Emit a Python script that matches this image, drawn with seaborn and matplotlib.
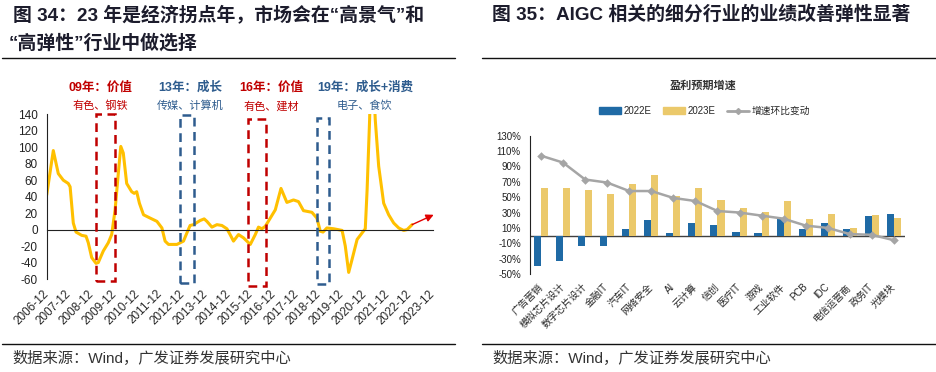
import matplotlib
matplotlib.use('Agg')
import matplotlib.pyplot as plt
from matplotlib.patches import Rectangle, Patch
from matplotlib.lines import Line2D
import seaborn as sns
import pandas as pd

# ---- left panel data: years since 2006-12 and value
left_t = [0.00, 0.29, 0.51, 0.73, 0.95, 1.03, 1.17, 1.29, 1.54, 1.73, 1.83, 1.98,
          2.17, 2.27, 2.49, 2.71, 2.86, 3.01, 3.15, 3.26, 3.37, 3.52, 3.74, 3.85,
          3.96, 4.08, 4.26, 4.55, 4.85, 5.07, 5.21, 5.36, 5.73, 6.02, 6.17, 6.31,
          6.46, 6.75, 6.93, 7.05, 7.27, 7.49, 7.71, 7.93, 8.07, 8.22, 8.44, 8.66,
          8.96, 9.18, 9.32, 9.47, 9.62, 9.84, 10.06, 10.31, 10.57, 10.86, 11.08,
          11.30, 11.67, 11.89, 12.04, 12.16, 12.33, 12.63, 13.00, 13.14, 13.29,
          13.44, 13.66, 13.88, 14.02, 14.10, 14.21, 14.30, 14.46, 14.61, 14.83,
          15.05, 15.27, 15.49, 15.71, 15.86, 16.08]
left_v = [42, 96, 68, 60, 56, 52, 8, -3, -7, -8, -16, -34,
          -41, -40, -26, -16, -6, 24, 68, 101, 93, 56, 46, 44,
          46, 32, 18, 14, 10, 2, -14, -18, -18, -14, -4, 5,
          6, 11, 13, 10, 3, 6, 5, 1, -6, -14, -6, -10,
          -18, -6, 3, 1, 4, 14, 24, 50, 33, 36, 34,
          23, 21, 14, -2, -3, 2, 1, -1, -20, -52,
          -36, -12, -4, 1, 48, 133, 230, 133, 77, 32,
          18, 8, 2, -1, 0, 6]
year_labels = [f'{y}-12' for y in range(2006, 2024)]
arrow_from = (16.08, 6)
arrow_to = (17.03, 18)

# highlighted windows: (left, right, bottom, top, colour)
boxes = [(2.16, 3.00, -63, 140, '#c00000'),
         (5.87, 6.49, -65, 139, '#2e5c8e'),
         (8.84, 9.66, -68, 134, '#c00000'),
         (11.89, 12.44, -66, 135, '#2e5c8e')]
notes = [(2.35, '09年：价值', '有色、钢铁', '#c00000'),
         (6.30, '13年：成长', '传媒、计算机', '#2e5c8e'),
         (9.90, '16年：价值', '有色、建材', '#c00000'),
         (14.0, '19年：成长+消费', '电子、食饮', '#2e5c8e')]

# ---- right panel data
industries = ['广告营销', '模拟芯片设计', '数字芯片设计', '金融IT', '汽车IT', '网络安全', 'AI',
              '云计算', '信创', '医疗IT', '游戏', '工业软件', 'PCB', 'IDC', '电信运营商',
              '政务IT', '光模块']
g2022 = [-40, -33, -14, -14, 9, 20, 3, 16, 14, 5, 4, 21, 9, 17, 9, 26, 28]
g2023 = [62, 62, 59, 54, 67, 79, 51, 62, 46, 36, 31, 45, 21, 28, 10, 27, 23]
g_change = [104, 95, 73, 69, 58, 58, 49, 45, 32, 30, 26, 22, 13, 10, 2, 1, -6]

sns.set_style('white')
plt.rcParams['font.family'] = ['Liberation Sans', 'Noto Sans CJK SC']
plt.rcParams['axes.unicode_minus'] = False

fig = plt.figure(figsize=(9.36, 3.72), dpi=100)
ink = '#1c1c2c'

# ================= left chart
ax1 = fig.add_axes([0.0499, 0.25, 0.4127, 0.4427])
df_left = pd.DataFrame({'t': left_t, 'v': left_v})
sns.lineplot(data=df_left, x='t', y='v', ax=ax1, color='#FFC000', lw=2.2)
ax1.set_xlim(0, 17)
ax1.set_ylim(-60, 140)
ax1.set_xlabel('')
ax1.set_ylabel('')
for s in ['top', 'right']:
    ax1.spines[s].set_visible(False)
ax1.spines['bottom'].set_position(('data', 0))
ax1.spines['bottom'].set_color('#222222')
ax1.spines['left'].set_color('#222222')
ax1.set_yticks(range(-60, 141, 20))
ax1.tick_params(axis='y', direction='out', length=3, labelsize=8.5, colors='#222222')
ax1.set_xticks(range(18))
ax1.set_xticklabels(year_labels, rotation=45, ha='right', rotation_mode='anchor',
                    va='center', fontsize=8.5)
ax1.tick_params(axis='x', which='major', length=0, pad=45)
ax1.set_xticks(range(1, 18, 2), minor=True)
ax1.tick_params(axis='x', which='minor', length=4, direction='out', color='#222222')

for l, r, b, t, c in boxes:
    ax1.add_patch(Rectangle((l, b), r - l, t - b, fill=False, edgecolor=c, lw=1.8,
                            linestyle=(0, (3.5, 2.2)), clip_on=False, zorder=3))
for x, head, sub, c in notes:
    ax1.text(x, 172, head, ha='center', va='center', color=c, fontsize=9,
             fontweight='bold', clip_on=False)
    ax1.text(x, 150, sub, ha='center', va='center', color=c, fontsize=8, clip_on=False)
ax1.annotate('', xy=arrow_to, xytext=arrow_from, annotation_clip=False,
             arrowprops=dict(arrowstyle='-|>', color='#e00000', lw=1, mutation_scale=11,
                             shrinkA=0, shrinkB=0))

# ================= right chart
ax2 = fig.add_axes([0.5662, 0.2634, 0.4006, 0.3718])
df_bar = pd.DataFrame({'行业': industries * 2,
                       '系列': ['2022E'] * len(industries) + ['2023E'] * len(industries),
                       '增速': g2022 + g2023})
blue, yellow, grey = '#1f6aa5', '#ebc96b', '#a5a5a5'
sns.barplot(data=df_bar, x='行业', y='增速', hue='系列', palette=[blue, yellow],
            width=0.64, ax=ax2, legend=False, saturation=1, linewidth=0)
sns.pointplot(x=industries, y=g_change, color=grey, marker='D', markersize=3,
              linewidth=1.8, errorbar=None, ax=ax2)
ax2.axhline(0, color='#404040', lw=1, zorder=0.5)
ax2.set_xlim(-0.5, 16.5)
ax2.set_ylim(-50, 130)
ax2.set_xlabel('')
ax2.set_ylabel('')
for s in ['top', 'right', 'bottom']:
    ax2.spines[s].set_visible(False)
ax2.spines['left'].set_color('#222222')
ax2.set_yticks(range(-50, 131, 20))
ax2.set_yticklabels([f'{v}%' for v in range(-50, 131, 20)])
ax2.tick_params(axis='y', direction='out', length=3, labelsize=7, colors='#222222')
ax2.set_xticks(range(len(industries)))
ax2.set_xticklabels(industries, rotation=45, ha='right', rotation_mode='anchor',
                    va='center', fontsize=7)
ax2.tick_params(axis='x', length=0, pad=8)

handles = [Patch(color=blue), Patch(color=yellow),
           Line2D([], [], color=grey, lw=2, marker='D', markersize=3)]
fig.legend(handles, ['2022E', '2023E', '增速环比变动'], loc='center',
           bbox_to_anchor=(0.753, 0.7016), ncol=3, frameon=False, fontsize=7,
           handlelength=2.2, handleheight=0.6, columnspacing=1.2, handletextpad=0.3)
fig.text(0.751, 0.7715, '盈利预期增速', ha='center', va='center', fontsize=8,
         fontweight='bold', color='#333333')

# ================= titles, rules, source
fig.text(0.0139, 0.960, '图 34：23 年是经济拐点年，市场会在“高景气”和', fontsize=13.6,
         fontweight='bold', color=ink, va='center', ha='left')
fig.text(0.0096, 0.884, '“高弹性”行业中做选择', fontsize=13.6, fontweight='bold',
         color=ink, va='center', ha='left')
fig.text(0.5256, 0.960, '图 35：AIGC 相关的细分行业的业绩改善弹性显著', fontsize=13.6,
         fontweight='bold', color=ink, va='center', ha='left')
for x0, x1 in [(0.002, 0.486), (0.515, 1.0)]:
    for y in (0.844, 0.0753):
        fig.add_artist(Line2D([x0, x1], [y, y], transform=fig.transFigure,
                              color='#111111', lw=1))
fig.text(0.0128, 0.0376, '数据来源：Wind，广发证券发展研究中心', fontsize=11,
         color='#333333', va='center', ha='left')
fig.text(0.5256, 0.0376, '数据来源：Wind，广发证券发展研究中心', fontsize=11,
         color='#333333', va='center', ha='left')

fig.savefig('out.png', dpi=100)
